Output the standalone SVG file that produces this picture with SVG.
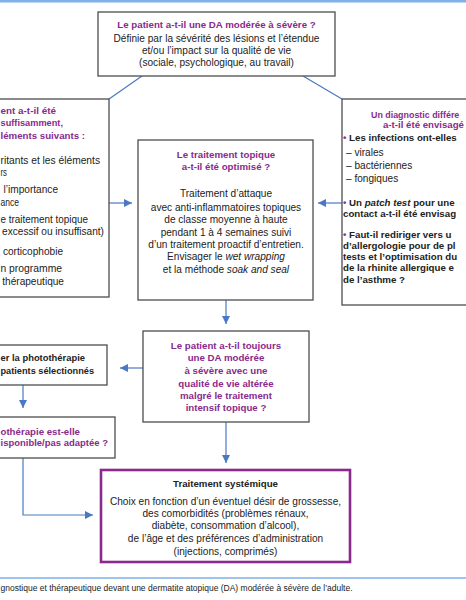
<svg xmlns="http://www.w3.org/2000/svg" width="466" height="600" viewBox="0 0 466 600">
<defs>
<marker id="ah" markerUnits="userSpaceOnUse" markerWidth="8" markerHeight="8" refX="8" refY="4" orient="auto">
<path d="M0,0 L8,4 L0,8 z" fill="#4a78c2"/>
</marker>
<style>
text{font-family:"Liberation Sans",Arial,sans-serif;font-size:10.1px;fill:#222}
.box{fill:#fff;stroke:#4d4d4d;stroke-width:1.3}
.sys{fill:#fff;stroke:#8a2a8c;stroke-width:2.6}
.q{fill:#8a2a8c;font-weight:bold;font-size:9.7px}
.b{font-weight:bold;font-size:9.7px}
.c{text-anchor:middle}
.e{text-anchor:end}
.it{font-style:italic}
.con{stroke:#4a78c2;stroke-width:1.2;fill:none}
.arr{marker-end:url(#ah)}
</style>
</defs>
<rect x="0" y="0" width="466" height="2.5" fill="#7fb2ea"/>
<line x1="0" y1="578" x2="466" y2="578" stroke="#7fb2ea" stroke-width="1.5"/>
<text x="0.5" y="591" style="font-size:8.5px">gnostique et thérapeutique devant une dermatite atopique (DA) modérée à sévère de l’adulte.</text>

<g id="connectors">
<line class="con" x1="142" y1="76" x2="109" y2="99"/>
<line class="con" x1="303" y1="76" x2="342" y2="99"/>
<line class="con arr" x1="109" y1="203" x2="132" y2="203"/>
<line class="con arr" x1="342" y1="203" x2="318" y2="203"/>
<line class="con arr" x1="226" y1="300" x2="226" y2="324"/>
<line class="con arr" x1="143" y1="368" x2="120" y2="368"/>
<line class="con arr" x1="23" y1="385" x2="23" y2="408"/>
<polyline class="con arr" points="23,458 23,515 93,515"/>
<line class="con arr" x1="226" y1="422" x2="226" y2="463"/>
</g>

<g id="top">
<rect class="box" x="98" y="12" width="237" height="64"/>
<text class="q c" x="216.5" y="28">Le patient a-t-il une DA modérée à sévère ?</text>
<text class="c" x="216.5" y="42">Définie par la sévérité des lésions et l’étendue</text>
<text class="c" x="216.5" y="54">et/ou l’impact sur la qualité de vie</text>
<text class="c" x="216.5" y="66">(sociale, psychologique, au travail)</text>
</g>

<g id="left">
<rect class="box" x="-5" y="99" width="114" height="198"/>
<text class="q" x="0.5" y="114" textLength="55.5" lengthAdjust="spacingAndGlyphs">ent a-t-il été</text>
<text class="q" x="0.5" y="126" textLength="62.5" lengthAdjust="spacingAndGlyphs">suffisamment,</text>
<text class="q" x="0.5" y="139" textLength="84.5" lengthAdjust="spacingAndGlyphs">léments suivants :</text>
<text x="0.5" y="164" textLength="99.5" lengthAdjust="spacingAndGlyphs">ritants et les éléments</text>
<text x="0.5" y="176" textLength="6.5" lengthAdjust="spacingAndGlyphs">rs</text>
<text class="e" x="58" y="193">l’importance</text>
<text x="0.5" y="206" textLength="18.5" lengthAdjust="spacingAndGlyphs">ance</text>
<text x="0.5" y="223" textLength="87.5" lengthAdjust="spacingAndGlyphs">e traitement topique</text>
<text class="e" x="104" y="235">excessif ou insuffisant)</text>
<text class="e" x="63" y="255">corticophobie</text>
<text x="0.5" y="272" textLength="61.5" lengthAdjust="spacingAndGlyphs">n programme</text>
<text class="e" x="64" y="285">thérapeutique</text>
</g>

<g id="center">
<rect class="box" x="138" y="140" width="175" height="160"/>
<text class="q c" x="226" y="158">Le traitement topique</text>
<text class="q c" x="226" y="170">a-t-il été optimisé ?</text>
<text class="c" x="226" y="197">Traitement d’attaque</text>
<text class="c" x="226" y="211">avec anti-inflammatoires topiques</text>
<text class="c" x="226" y="223">de classe moyenne à haute</text>
<text class="c" x="226" y="236">pendant 1 à 4 semaines suivi</text>
<text class="c" x="226" y="248">d’un traitement proactif d’entretien.</text>
<text class="c" x="226" y="260">Envisager le <tspan class="it">wet wrapping</tspan></text>
<text class="c" x="226" y="273">et la méthode <tspan class="it">soak and seal</tspan></text>
</g>

<g id="right">
<rect class="box" x="342" y="99" width="130" height="206"/>
<text class="q" x="371" y="118" style="font-size:8.9px">Un diagnostic différe</text>
<text class="q" x="383" y="128" textLength="81" lengthAdjust="spacingAndGlyphs">a-t-il été envisagé</text>
<text class="b" x="343" y="141"><tspan fill="#8a2a8c">•</tspan> Les infections ont-elles</text>
<text x="346" y="156">– virales</text>
<text x="346" y="169">– bactériennes</text>
<text x="346" y="182">– fongiques</text>
<text class="b" x="343" y="206"><tspan fill="#8a2a8c">•</tspan> Un <tspan class="it">patch test</tspan> pour une</text>
<text class="b" x="343" y="217">contact a-t-il été envisag</text>
<text class="b" x="343" y="238"><tspan fill="#8a2a8c">•</tspan> Faut-il rediriger vers u</text>
<text class="b" x="343" y="249">d’allergologie pour de pl</text>
<text class="b" x="343" y="260">tests et l’optimisation du</text>
<text class="b" x="343" y="271">de la rhinite allergique e</text>
<text class="b" x="343" y="283">de l’asthme ?</text>
</g>

<g id="mid">
<rect class="box" x="143" y="331" width="166" height="91"/>
<text class="q c" x="226" y="349">Le patient a-t-il toujours</text>
<text class="q c" x="226" y="361">une DA modérée</text>
<text class="q c" x="226" y="374">à sévère avec une</text>
<text class="q c" x="226" y="387">qualité de vie altérée</text>
<text class="q c" x="226" y="399">malgré le traitement</text>
<text class="q c" x="226" y="411">intensif topique ?</text>
</g>

<g id="photo">
<rect class="box" x="-5" y="345" width="112" height="40"/>
<text class="b" x="0.5" y="361" textLength="84.5" lengthAdjust="spacingAndGlyphs">er la photothérapie</text>
<text class="b" x="0.5" y="374" textLength="93.5" lengthAdjust="spacingAndGlyphs">patients sélectionnés</text>
</g>

<g id="photo2">
<rect class="box" x="-5" y="417" width="120" height="41"/>
<text class="q" x="0.5" y="435" textLength="79.5" lengthAdjust="spacingAndGlyphs">othérapie est-elle</text>
<text class="q" x="0.5" y="446" textLength="107.5" lengthAdjust="spacingAndGlyphs">isponible/pas adaptée ?</text>
</g>

<g id="systemic">
<rect class="sys" x="101" y="470" width="249" height="92"/>
<text class="b c" x="225.5" y="487">Traitement systémique</text>
<text class="c" x="225.5" y="505">Choix en fonction d’un éventuel désir de grossesse,</text>
<text class="c" x="225.5" y="517">des comorbidités (problèmes rénaux,</text>
<text class="c" x="225.5" y="529">diabète, consommation d’alcool),</text>
<text class="c" x="225.5" y="542">de l’âge et des préférences d’administration</text>
<text class="c" x="225.5" y="555">(injections, comprimés)</text>
</g>
</svg>
